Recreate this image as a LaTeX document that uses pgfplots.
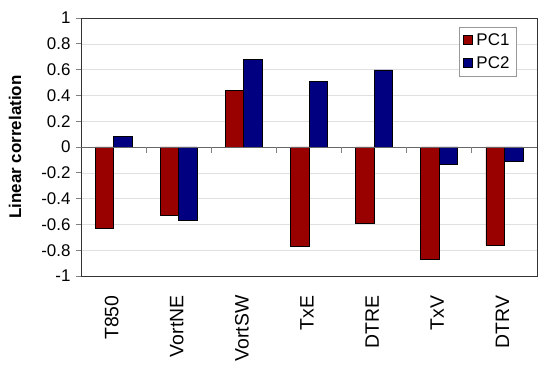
\documentclass[border=0pt]{standalone}
\usepackage{pgfplots}
\pgfplotsset{compat=1.18}
\usepackage{fontspec}
\setmainfont{Liberation Sans}
\definecolor{pcred}{HTML}{990000}
\definecolor{pcblue}{HTML}{000080}
\begin{document}
\begin{tikzpicture}
\useasboundingbox (0,0) rectangle (550bp,370bp);
\begin{axis}[
  at={(81bp,94bp)}, anchor=south west,
  scale only axis, width=456bp, height=258bp,
  xmin=-0.5, xmax=6.5, ymin=-1, ymax=1,
  ybar=0pt, bar width=18.5bp,
  xtick={0,1,2,3,4,5,6},
  xticklabels={T850,VortNE,VortSW,TxE,DTRE,TxV,DTRV},
  xticklabel style={rotate=90, anchor=east, font=\fontsize{19.5}{22}\selectfont, xshift=-11bp, yshift=2bp},
  major x tick style={draw=none},
  ytick={-1,-0.8,-0.6,-0.4,-0.2,0,0.2,0.4,0.6,0.8,1},
  yticklabels={-1,-0.8,-0.6,-0.4,-0.2,0,0.2,0.4,0.6,0.8,1},
  yticklabel style={font=\fontsize{17}{20}\selectfont, xshift=-2bp},
  ytick pos=left, ytick align=outside, major y tick style={black!50, line width=0.6bp}, major tick length=5bp,
  ymajorgrids, grid style={black!12},
  axis line style={black!80, line width=0.9bp},
  ylabel={\bfseries Linear correlation},
  ylabel style={at={(axis description cs:-0.123,0.5)}, anchor=south, font=\fontsize{17}{20}\selectfont},
  every axis plot post/.append style={legend image code/.code={\draw[##1,draw=black] (2bp,-4.5bp) rectangle (11bp,4.5bp);}},
  legend style={at={(0.83,0.965)}, anchor=north west, draw=black!40, fill=white,
    font=\fontsize{17}{20}\selectfont, inner xsep=3bp, inner ysep=4bp, row sep=6bp, cells={anchor=west},
    nodes={inner xsep=4bp}},
]
\addplot[fill=pcred, draw=black, line width=0.8bp] coordinates {(0,-0.63) (1,-0.527) (2,0.44) (3,-0.77) (4,-0.595) (5,-0.87) (6,-0.76)};
\addplot[fill=pcblue, draw=black, line width=0.8bp] coordinates {(0,0.08) (1,-0.57) (2,0.68) (3,0.506) (4,0.597) (5,-0.134) (6,-0.108)};
\legend{PC1,PC2}
\draw[black!60, line width=0.8bp] (axis cs:-0.5,0) -- (axis cs:6.5,0);
\pgfplotsinvokeforeach{0.5,1.5,2.5,3.5,4.5,5.5}{\draw[black!50, line width=0.8bp] (axis cs:#1,0) -- ([yshift=-6bp]axis cs:#1,0);}
\end{axis}
\end{tikzpicture}
\end{document}
